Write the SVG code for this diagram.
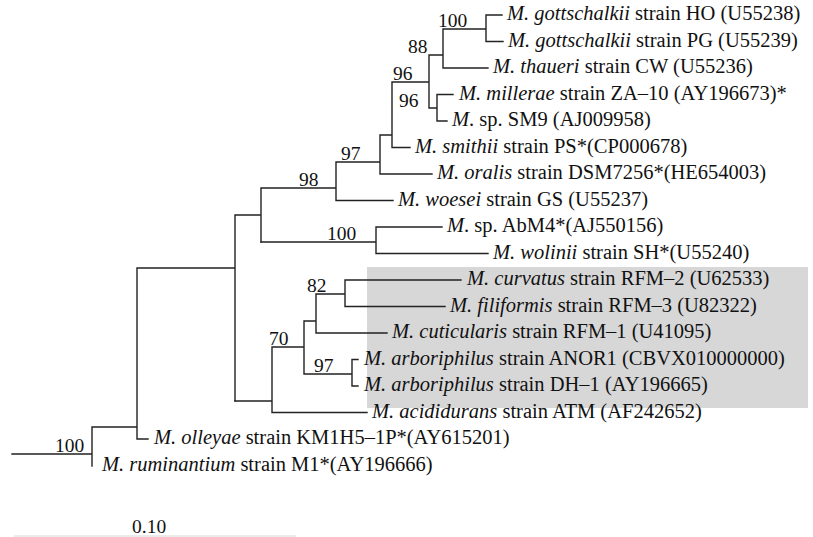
<svg xmlns="http://www.w3.org/2000/svg" width="813" height="537" viewBox="0 0 813 537">
<style>
text{font-size:20.5px;fill:#111}
.i{font-style:italic}
.br{fill:none;stroke:#222;stroke-width:1.4;stroke-linecap:square}
.bs{font-size:19.5px}
</style>
<rect id="highlight" x="367" y="267" width="441" height="141" fill="#d7d7d7"/>
<g id="connectors" class="br">
<path d="M12 454H92M92 427V466M92 427H137M137 268V439M137 439H148M137 268H235M235 215V401M235 215H261M261 188V242M261 188H336M336 162V200.5M336 200.5H393M336 162H380M380 135V174M380 174H432M380 135H392M392 82V147.5M392 147.5H410M392 82H429M429 55V108M429 108H437M437 94.5V121M437 94.5H453M437 121H447M429 55H443M443 29V68M443 68H488M443 29H486M486 15V41.5M486 15H502M486 41.5H503"/>
<path d="M261 242H376M376 227V253.5M376 227H442M376 253.5H488"/>
<path d="M235 401H272M272 347V412.5M272 412.5H367M272 347H304M304 321V374M304 374H352M352 359.5V386M352 359.5H358M352 386H358M304 321H316M316 294V333M316 333H387M316 294H345M345 280V306.5M345 280H461M345 306.5H445"/>
</g>
<g id="leaf-HO"><text x="507" y="20" style="font-family:'Liberation Serif'"><tspan class="i">M. gottschalkii</tspan> strain HO (U55238)</text></g>
<g id="leaf-PG"><text x="508" y="46.5" style="font-family:'Liberation Serif'"><tspan class="i">M. gottschalkii</tspan> strain PG (U55239)</text></g>
<g id="leaf-CW"><text x="493" y="73" style="font-family:'Liberation Serif'"><tspan class="i">M. thaueri</tspan> strain CW (U55236)</text></g>
<g id="leaf-ZA10"><text x="459" y="99.5" style="font-family:'Liberation Serif'"><tspan class="i">M. millerae</tspan> strain ZA–10 (AY196673)*</text></g>
<g id="leaf-SM9"><text x="452" y="126" style="font-family:'Liberation Serif'"><tspan class="i">M</tspan>. sp. SM9 (AJ009958)</text></g>
<g id="leaf-PS"><text x="415" y="152.5" style="font-family:'Liberation Serif'"><tspan class="i">M. smithii</tspan> strain PS*(CP000678)</text></g>
<g id="leaf-DSM7256"><text x="437" y="179" style="font-family:'Liberation Serif'"><tspan class="i">M. oralis</tspan> strain DSM7256*(HE654003)</text></g>
<g id="leaf-GS"><text x="398" y="205.5" style="font-family:'Liberation Serif'"><tspan class="i">M. woesei</tspan> strain GS (U55237)</text></g>
<g id="leaf-AbM4"><text x="447" y="232" style="font-family:'Liberation Serif'"><tspan class="i">M</tspan>. sp. AbM4*(AJ550156)</text></g>
<g id="leaf-SH"><text x="493" y="258.5" style="font-family:'Liberation Serif'"><tspan class="i">M. wolinii</tspan> strain SH*(U55240)</text></g>
<g id="leaf-RFM2"><text x="467" y="285" style="font-family:'Liberation Serif'"><tspan class="i">M. curvatus</tspan> strain RFM–2 (U62533)</text></g>
<g id="leaf-RFM3"><text x="450" y="311.5" style="font-family:'Liberation Serif'"><tspan class="i">M. filiformis</tspan> strain RFM–3 (U82322)</text></g>
<g id="leaf-RFM1"><text x="392" y="338" style="font-family:'Liberation Serif'"><tspan class="i">M. cuticularis</tspan> strain RFM–1 (U41095)</text></g>
<g id="leaf-ANOR1"><text x="364" y="364.5" style="font-family:'Liberation Serif'"><tspan class="i">M. arboriphilus</tspan> strain ANOR1 (CBVX010000000)</text></g>
<g id="leaf-DH1"><text x="364" y="391" style="font-family:'Liberation Serif'"><tspan class="i">M. arboriphilus</tspan> strain DH–1 (AY196665)</text></g>
<g id="leaf-ATM"><text x="372" y="417.5" style="font-family:'Liberation Serif'"><tspan class="i">M. acididurans</tspan> strain ATM (AF242652)</text></g>
<g id="leaf-KM1H5"><text x="154" y="444" style="font-family:'Liberation Serif'"><tspan class="i">M. olleyae</tspan> strain KM1H5–1P*(AY615201)</text></g>
<g id="leaf-M1"><text x="102" y="470.5" style="font-family:'Liberation Serif'"><tspan class="i">M. ruminantium</tspan> strain M1*(AY196666)</text></g>
<g id="node-root"><text class="bs" x="55" y="452" style="font-family:'Liberation Serif'">100</text></g>
<g id="node-gott"><text class="bs" x="438" y="27" style="font-family:'Liberation Serif'">100</text></g>
<g id="node-88"><text class="bs" x="408" y="53" style="font-family:'Liberation Serif'">88</text></g>
<g id="node-96a"><text class="bs" x="393" y="80" style="font-family:'Liberation Serif'">96</text></g>
<g id="node-96b"><text class="bs" x="399" y="107" style="font-family:'Liberation Serif'">96</text></g>
<g id="node-97a"><text class="bs" x="341" y="160" style="font-family:'Liberation Serif'">97</text></g>
<g id="node-98"><text class="bs" x="299" y="186" style="font-family:'Liberation Serif'">98</text></g>
<g id="node-100b"><text class="bs" x="327" y="240" style="font-family:'Liberation Serif'">100</text></g>
<g id="node-82"><text class="bs" x="307" y="292" style="font-family:'Liberation Serif'">82</text></g>
<g id="node-70"><text class="bs" x="269" y="345" style="font-family:'Liberation Serif'">70</text></g>
<g id="node-97b"><text class="bs" x="314" y="372" style="font-family:'Liberation Serif'">97</text></g>
<g id="scale"><line x1="14" y1="536" x2="296" y2="536" stroke="#d8d8d8" stroke-width="1.2"/><text class="bs" x="132" y="533" style="font-family:'Liberation Serif'">0.10</text></g>
</svg>
